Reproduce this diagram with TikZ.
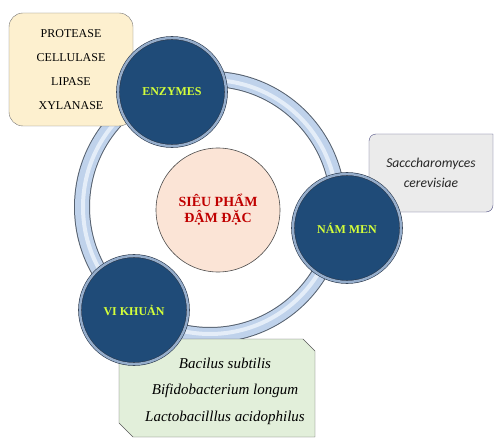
\documentclass[tikz,border=0pt]{standalone}
\usepackage{fontspec}
\setmainfont{Liberation Serif}
\newfontfamily\calfont{Carlito}
\usetikzlibrary{positioning,calc}
\definecolor{hubBlue}{HTML}{1F4B78}
\definecolor{hubRim}{HTML}{95ADCB}
\definecolor{hubEdge}{HTML}{2B3A4E}
\definecolor{hubText}{HTML}{D4FF3A}
\definecolor{ringBlue}{HTML}{BFD2EB}
\definecolor{ringLight}{HTML}{E4EDF8}
\definecolor{ringEdge}{HTML}{56616F}
\definecolor{coreFill}{HTML}{FBE4D6}
\definecolor{coreText}{HTML}{C00000}
\definecolor{boxCream}{HTML}{FDF0CF}
\definecolor{boxGray}{HTML}{EBEBEB}
\definecolor{boxGreen}{HTML}{E2EFDA}
\newcommand{\hub}[3]{%
 \node[circle, minimum size=108pt, inner sep=0pt, fill=hubBlue, draw=hubEdge, double=hubRim, double distance=2.4pt, line width=0.6pt, font=\fontsize{12}{14}\selectfont\bfseries, text=hubText] (#2) at (#1) {#3};}

\begin{document}
\begin{tikzpicture}[x=1pt, y=-1pt]
\useasboundingbox (0,0) rectangle (497,446);
% ring
\coordinate (ring) at (210,207);
\draw[ringEdge, line width=16pt] (ring) circle[radius=128pt];
\draw[ringBlue, line width=14pt] (ring) circle[radius=128pt];
\draw[ringLight, line width=4pt] (ring) circle[radius=127pt];
% side boxes
\node[draw=black!55, fill=boxCream, rounded corners=14pt, minimum width=124pt, minimum height=113pt, align=center, font=\fontsize{12}{24}\selectfont] (enzlist) at (71,69.5) {PROTEASE\\CELLULASE\\LIPASE\\XYLANASE};
\draw[draw=black!50!blue!40!gray, fill=boxGray] (369,212) -- (369,141) arc[start angle=180, end angle=90, radius=7pt] -- (493,134) -- (493,205) arc[start angle=0, end angle=-90, radius=7pt] -- cycle;
\node[align=center, font=\fontsize{13.6}{20}\selectfont\calfont\itshape, text=black!85] (yeastlist) at (431,173) {Sacccharomyces\\cerevisiae};
\draw[draw=black!65, fill=boxGreen] (119,339) -- (303,339) -- (315,351) -- (315,437) -- (133,437) -- (119,423) -- cycle;
\node[align=center, font=\fontsize{15}{26.5}\selectfont\itshape] (bactlist) at (225,391) {Bacilus subtilis\\Bifidobacterium longum\\Lactobacilllus acidophilus};
% hubs
\hub{172,92}{enzymes}{ENZYMES}
\hub{347,228}{nammen}{NÁM MEN}
\hub{134,310}{vikhuan}{VI KHUẢN}
% core
\node[circle, minimum size=124pt, fill=coreFill, draw=black!70, line width=0.6pt, align=center, text=coreText, font=\fontsize{14}{16}\selectfont\bfseries] (core) at (218,210) {SIÊU PHẨM\\ĐẬM ĐẶC};
\end{tikzpicture}
\end{document}
